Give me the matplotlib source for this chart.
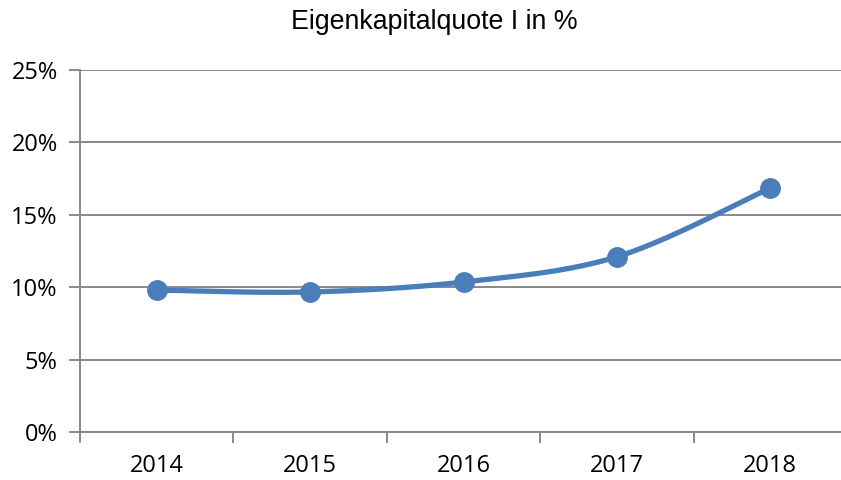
import numpy as np
import matplotlib
matplotlib.use("Agg")
import matplotlib.pyplot as plt
from matplotlib.ticker import FuncFormatter, FixedLocator

# Eigenkapitalquote I je Jahr (in %)
years = ["2014", "2015", "2016", "2017", "2018"]
quote = [9.8, 9.67, 10.36, 12.1, 16.85]
title = "Eigenkapitalquote I in %"


def smooth(xs, ys, n=40):
    # geglaettete Linie wie in Excel (Bezier mit Catmull-Rom-Kontrollpunkten)
    p = np.column_stack([xs, ys]).astype(float)
    pts = np.vstack([p[0], p, p[-1]])
    out = []
    for i in range(1, len(pts) - 2):
        p0, p1, p2, p3 = pts[i - 1], pts[i], pts[i + 1], pts[i + 2]
        c1 = p1 + (p2 - p0) / 6
        c2 = p2 - (p3 - p1) / 6
        t = np.linspace(0, 1, n)[:, None]
        seg = ((1 - t) ** 3) * p1 + 3 * ((1 - t) ** 2) * t * c1 + 3 * (1 - t) * t ** 2 * c2 + t ** 3 * p2
        out.append(seg if i == 1 else seg[1:])
    out = np.vstack(out)
    return out[:, 0], out[:, 1]


x = np.arange(len(years))
sx, sy = smooth(x, quote)

fig = plt.figure(figsize=(8.41, 4.80), dpi=100)
ax = fig.add_axes([80 / 841, 48 / 480, 767 / 841, 362 / 480])

grid_col = "#898989"
line_col = "#4a7ebb"

ax.set_xlim(-0.5, len(years) - 0.5)
ax.set_ylim(0, 25)
ax.yaxis.set_major_locator(FixedLocator([0, 5, 10, 15, 20, 25]))
ax.yaxis.set_major_formatter(FuncFormatter(lambda v, _: f"{v:.0f}%"))
ax.grid(axis="y", color=grid_col, linewidth=1.4)
ax.set_axisbelow(True)

ax.set_xticks(x)
ax.set_xticklabels(years)
ax.set_xticks(np.arange(-0.5, len(years)), minor=True)
ax.tick_params(axis="x", which="major", length=0, pad=16)
ax.tick_params(axis="x", which="minor", length=8, width=1.4, color=grid_col)
ax.tick_params(axis="y", length=8, width=1.4, color=grid_col, pad=8)
for lab in ax.get_xticklabels() + ax.get_yticklabels():
    lab.set_fontfamily("Open Sans")
    lab.set_fontsize(17)

for s in ["top", "right"]:
    ax.spines[s].set_visible(False)
for s in ["left", "bottom"]:
    ax.spines[s].set_color(grid_col)
    ax.spines[s].set_linewidth(1.4)

ax.plot(sx, sy, color=line_col, linewidth=3.8, solid_capstyle="round", zorder=3)
ax.plot(x, quote, "o", color=line_col, markersize=14, zorder=4)

fig.text(434 / 841, 1 - 22 / 480, title, ha="center", va="center",
         fontfamily="Liberation Sans", fontsize=19.3)

fig.savefig("out.png", dpi=100)
